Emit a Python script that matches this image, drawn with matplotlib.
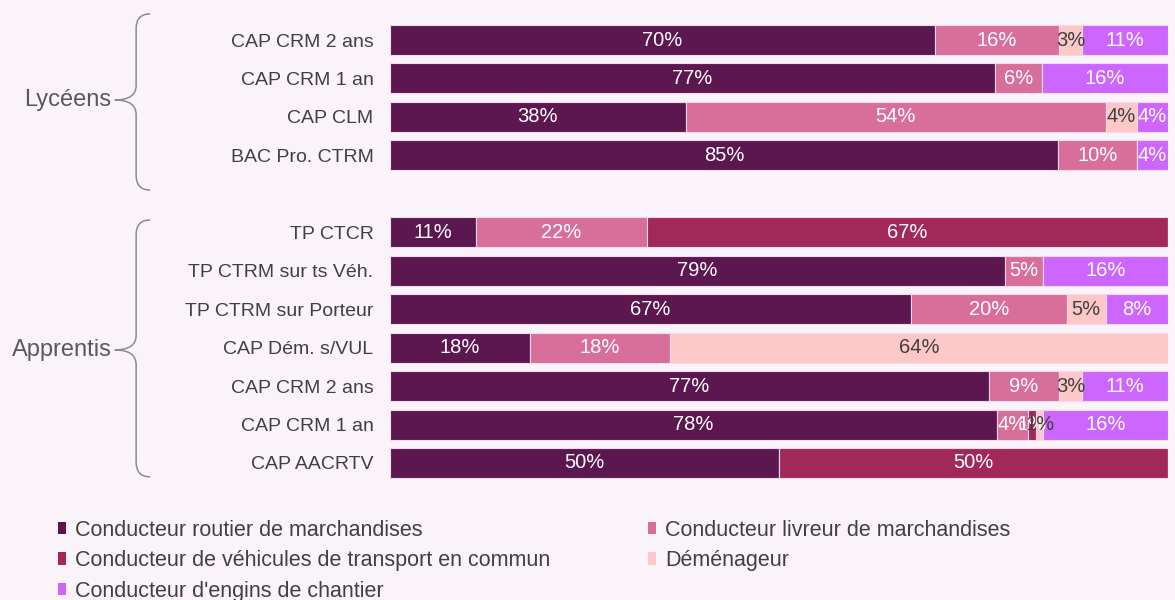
import numpy as np
import matplotlib.pyplot as plt
import matplotlib.transforms as mtransforms
from matplotlib.path import Path
from matplotlib.patches import PathPatch, Patch

plt.rcParams['font.family'] = ['Liberation Sans', 'DejaVu Sans']

# categories (lycéens then apprentis)
lycees = ["CAP CRM 2 ans", "CAP CRM 1 an", "CAP CLM", "BAC Pro. CTRM"]
apprentis = ["TP CTCR", "TP CTRM sur ts Véh.", "TP CTRM sur Porteur", "CAP Dém. s/VUL",
             "CAP CRM 2 ans", "CAP CRM 1 an", "CAP AACRTV"]

series = ["Conducteur routier de marchandises",
          "Conducteur livreur de marchandises",
          "Conducteur de véhicules de transport en commun",
          "Déménageur",
          "Conducteur d'engins de chantier"]

# values in %, one entry per row (4 lycéens + 7 apprentis)
routier    = [70, 77, 38, 85, 11, 79, 67, 18, 77, 78, 50]
livreur    = [16, 6, 54, 10, 22, 5, 20, 18, 9, 4, 0]
commun     = [0, 0, 0, 0, 67, 0, 0, 0, 0, 1, 50]
demenageur = [3, 0, 4, 0, 0, 0, 5, 64, 3, 1, 0]
engins     = [11, 16, 4, 4, 0, 16, 8, 0, 11, 16, 0]

colors = ["#5C1650", "#D86E9A", "#A2285A", "#FFC8C8", "#CC66FF"]
txt_colors = ["white", "white", "white", "#404040", "white"]
bg = "#FBF3FA"

data = np.array([routier, livreur, commun, demenageur, engins], dtype=float)
totals = data.sum(axis=0)
widths = data / totals * 100

ypos = list(range(len(lycees))) + list(range(len(lycees) + 1, len(lycees) + 1 + len(apprentis)))
labels = lycees + apprentis

fig = plt.figure(figsize=(11.75, 6), dpi=100, facecolor=bg)
ax = fig.add_axes([0.332, 0.1963, 0.662, 0.769])
ax.set_facecolor(bg)

left = np.zeros(len(ypos))
for i in range(len(series)):
    ax.barh(ypos, widths[i], left=left, height=0.78, color=colors[i],
            edgecolor="#F2DAEA", linewidth=0.8)
    for j, y in enumerate(ypos):
        if data[i, j] > 0:
            ax.text(left[j] + widths[i, j] / 2, y, f"{int(data[i, j])}%",
                    ha="center", va="center", color=txt_colors[i], fontsize=14.5)
    left += widths[i]

ax.set_xlim(0, 100)
ax.set_ylim(11.5, -0.5)
ax.set_yticks(ypos)
ax.set_yticklabels(labels, fontsize=14, color="#404040")
ax.tick_params(axis="y", length=0, pad=12)
ax.set_xticks([])
for s in ax.spines.values():
    s.set_visible(False)

# curly braces for the two groups
trans = mtransforms.blended_transform_factory(ax.transAxes, ax.transData)


def brace(top, bottom, tip, name):
    xe, xl, xt = -0.3085, -0.3265, -0.354
    r = 0.38
    verts = [(xe, top), (xl, top), (xl, top + r),
             (xl, tip - r),
             (xl, tip), (xt, tip), (xl, tip), (xl, tip + r),
             (xl, bottom - r),
             (xl, bottom), (xe, bottom)]
    codes = [Path.MOVETO, Path.CURVE3, Path.CURVE3,
             Path.LINETO,
             Path.CURVE3, Path.CURVE3, Path.CURVE3, Path.CURVE3,
             Path.LINETO,
             Path.CURVE3, Path.CURVE3]
    ax.add_patch(PathPatch(Path(verts, codes), transform=trans, fill=False,
                           edgecolor="#8C8C8C", linewidth=1.1, clip_on=False))
    ax.text(xt - 0.004, tip, name, transform=trans, ha="right", va="center",
            fontsize=17, color="#595959")


brace(-0.68, 3.9, 1.56, "Lycéens")
brace(4.68, 11.36, 8.06, "Apprentis")

order = [0, 2, 4, 1, 3]
handles = [Patch(facecolor=colors[k], edgecolor="none") for k in order]
fig.legend(handles, [series[k] for k in order], loc="upper left",
           bbox_to_anchor=(0.049, 0.134), ncol=2, frameon=False,
           fontsize=15.5, handlelength=0.38, handleheight=0.5,
           handletextpad=0.45, columnspacing=4.5, labelspacing=0.44,
           borderpad=0, borderaxespad=0, labelcolor="#404040")

fig.savefig("out.png", dpi=100, facecolor=bg)
